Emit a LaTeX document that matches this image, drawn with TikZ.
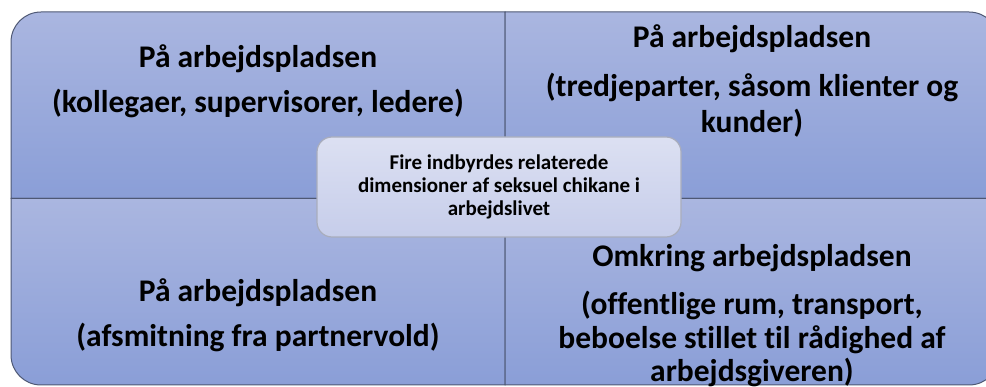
\documentclass[tikz,border=0pt]{standalone}
\usepackage{fontspec}
\setmainfont{Carlito}[Ligatures={NoCommon},RawFeature={-liga;-dlig;-clig}]
\definecolor{qtop}{HTML}{AAB6E0}
\definecolor{qbot}{HTML}{8A9ED7}
\definecolor{qline}{HTML}{4E5874}
\definecolor{ctop}{HTML}{DCE0F2}
\definecolor{cbot}{HTML}{C6CDEA}
\definecolor{cline}{HTML}{A9ADBC}
\begin{document}
\begin{tikzpicture}[x=1pt,y=-1pt,
  quad/.style={draw=qline,line width=1pt,top color=qtop,bottom color=qbot},
  big/.style={font=\fontsize{31.5}{35}\selectfont\bfseries,text=black,anchor=base,inner sep=0pt},
  centerbox/.style={draw=cline,line width=1.2pt,rounded corners=15pt,top color=ctop,bottom color=cbot,
    minimum width=364pt,minimum height=100pt,align=center,inner sep=0pt,
    font=\fontsize{21}{23.3}\selectfont\bfseries,text=black}]
\useasboundingbox (0,0) rectangle (986,387);
% quadrants
\path[quad] (505,198.5) -- (11,198.5) -- (11,42) .. controls (11,25.4) and (24.4,12) .. (41,12) -- (505,12) -- cycle;
\path[quad] (505,12) -- (969,12) .. controls (985.6,12) and (999,25.4) .. (999,42) -- (999,198.5) -- (505,198.5) -- cycle;
\path[quad] (11,198.5) -- (505,198.5) -- (505,385) -- (41,385) .. controls (24.4,385) and (11,371.6) .. (11,355) -- cycle;
\path[quad] (505,198.5) -- (999,198.5) -- (999,355) .. controls (999,371.6) and (985.6,385) .. (969,385) -- (505,385) -- cycle;
% texts
\node[big] (tl1) at (258,68) {På arbejdspladsen};
\node[big] (tl2) at (258,113) {(kollegaer, supervisorer, ledere)};
\node[big] (tr1) at (752,48) {På arbejdspladsen};
\node[big] (tr2) at (752,97) {(tredjeparter, såsom klienter og};
\node[big] (tr3) at (752,133) {kunder)};
\node[big] (bl1) at (258,302) {På arbejdspladsen};
\node[big] (bl2) at (258,347) {(afsmitning fra partnervold)};
\node[big] (br1) at (752,267) {Omkring arbejdspladsen};
\node[big] (br2) at (752,315) {(offentlige rum, transport,};
\node[big] (br3) at (752,349) {beboelse stillet til rådighed af};
\node[big] (br4) at (752,382) {arbejdsgiveren)};
% center
\node[centerbox] (c) at (499,187) {Fire indbyrdes relaterede\\dimensioner af seksuel chikane i\\arbejdslivet};
\end{tikzpicture}
\end{document}
